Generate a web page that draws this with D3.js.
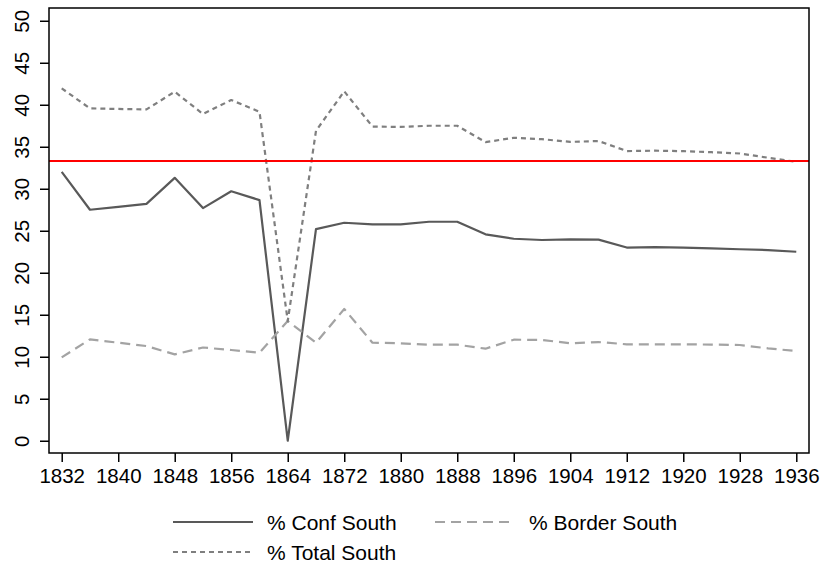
<!DOCTYPE html>
<html>
<head>
<meta charset="utf-8">
<script src="https://cdn.jsdelivr.net/npm/d3@7"></script>
<style>
  body { margin: 0; background: #fff; }
  svg { display: block; font-family: "Liberation Sans", Arial, sans-serif; }
</style>
</head>
<body>
<svg id="chart" width="821" height="565"></svg>
<script>
const width = 821;
const height = 565;

// Data
const years = [1832, 1836, 1840, 1844, 1848, 1852, 1856, 1860, 1864, 1868, 1872, 1876, 1880, 1884,
  1888, 1892, 1896, 1900, 1904, 1908, 1912, 1916, 1920, 1924, 1928, 1932, 1936];
const confSouth = [32.0, 27.5, 27.85, 28.2, 31.3, 27.7, 29.7, 28.65, 0.0, 25.2, 25.95, 25.76, 25.76, 26.07,
  26.07, 24.57, 24.05, 23.9, 23.97, 23.95, 23.0, 23.05, 23.0, 22.9, 22.8, 22.7, 22.5];
const borderSouth = [9.93, 12.07, 11.67, 11.27, 10.28, 11.1, 10.8, 10.48, 14.25, 11.67, 15.68, 11.67, 11.6, 11.44,
  11.44, 10.96, 12.03, 12.0, 11.6, 11.75, 11.48, 11.48, 11.48, 11.45, 11.4, 11.0, 10.68];
const totalSouth = [41.95, 39.57, 39.5, 39.45, 41.55, 38.9, 40.56, 39.17, 14.25, 36.9, 41.6, 37.4, 37.36, 37.5,
  37.5, 35.55, 36.07, 35.9, 35.58, 35.68, 34.49, 34.53, 34.48, 34.35, 34.2, 33.7, 33.2];
const referenceLine = 33.3;
const xTicks = d3.range(1832, 1937, 8);
const yTicks = d3.range(0, 51, 5);

const series = [
  { name: "% Conf South", values: confSouth, color: "#595959", dash: null },
  { name: "% Border South", values: borderSouth, color: "#a3a3a3", dash: "10,6" },
  { name: "% Total South", values: totalSouth, color: "#7f7f7f", dash: "5,4" }
];

const svg = d3.select("#chart");
const plot = { left: 49, top: 8, right: 809, bottom: 453 };

const x = d3.scaleLinear().domain([1830.2, 1937.8]).range([plot.left, plot.right]);
const y = d3.scaleLinear().domain([-1.46, 51.52]).range([plot.bottom, plot.top]);

// Axes
svg.append("g")
  .attr("transform", `translate(0,${plot.bottom})`)
  .call(d3.axisBottom(x).tickValues(xTicks).tickFormat(d3.format("d")).tickSize(9).tickPadding(6))
  .call(g => g.select(".domain").remove())
  .call(g => g.selectAll("line").attr("stroke", "#000").attr("stroke-width", 1.5))
  .call(g => g.selectAll("text").attr("font-size", 20.5).attr("fill", "#000").attr("font-family", null));

const yAxis = svg.append("g")
  .attr("transform", `translate(${plot.left},0)`)
  .call(d3.axisLeft(y).tickValues(yTicks).tickSize(9).tickFormat(d3.format("d")))
  .call(g => g.select(".domain").remove())
  .call(g => g.selectAll("line").attr("stroke", "#000").attr("stroke-width", 1.5));

yAxis.selectAll("text")
  .attr("font-size", 20.5)
  .attr("fill", "#000")
  .attr("font-family", null)
  .attr("x", null)
  .attr("dy", null)
  .attr("text-anchor", "middle")
  .attr("transform", "translate(-28,0) rotate(-90)")
  .attr("dominant-baseline", "central");

// Series lines
const line = d3.line()
  .x((d, i) => x(years[i]))
  .y(d => y(d));

svg.append("g")
  .selectAll("path")
  .data(series)
  .enter().append("path")
  .attr("d", d => line(d.values))
  .attr("fill", "none")
  .attr("stroke", d => d.color)
  .attr("stroke-width", 2.2)
  .attr("stroke-dasharray", d => d.dash)
  .attr("stroke-linejoin", "round");

// Reference line
svg.append("line")
  .attr("x1", plot.left).attr("x2", plot.right)
  .attr("y1", y(referenceLine)).attr("y2", y(referenceLine))
  .attr("stroke", "#ff0000")
  .attr("stroke-width", 2);

// Plot frame
svg.append("rect")
  .attr("x", plot.left).attr("y", plot.top)
  .attr("width", plot.right - plot.left).attr("height", plot.bottom - plot.top)
  .attr("fill", "none")
  .attr("stroke", "#000")
  .attr("stroke-width", 1.5);

// Legend
const legendPos = [
  { lx: 173, ty: 522 },
  { lx: 435, ty: 522 },
  { lx: 173, ty: 552 }
];

const legend = svg.append("g")
  .selectAll("g")
  .data(series)
  .enter().append("g")
  .attr("transform", (d, i) => `translate(${legendPos[i].lx},${legendPos[i].ty})`);

legend.append("line")
  .attr("x1", 0).attr("x2", 80)
  .attr("stroke", d => d.color)
  .attr("stroke-width", 2.2)
  .attr("stroke-dasharray", d => d.dash);

legend.append("text")
  .attr("x", 94)
  .attr("dominant-baseline", "central")
  .attr("font-size", 21)
  .attr("fill", "#000")
  .text(d => d.name);
</script>
</body>
</html>
